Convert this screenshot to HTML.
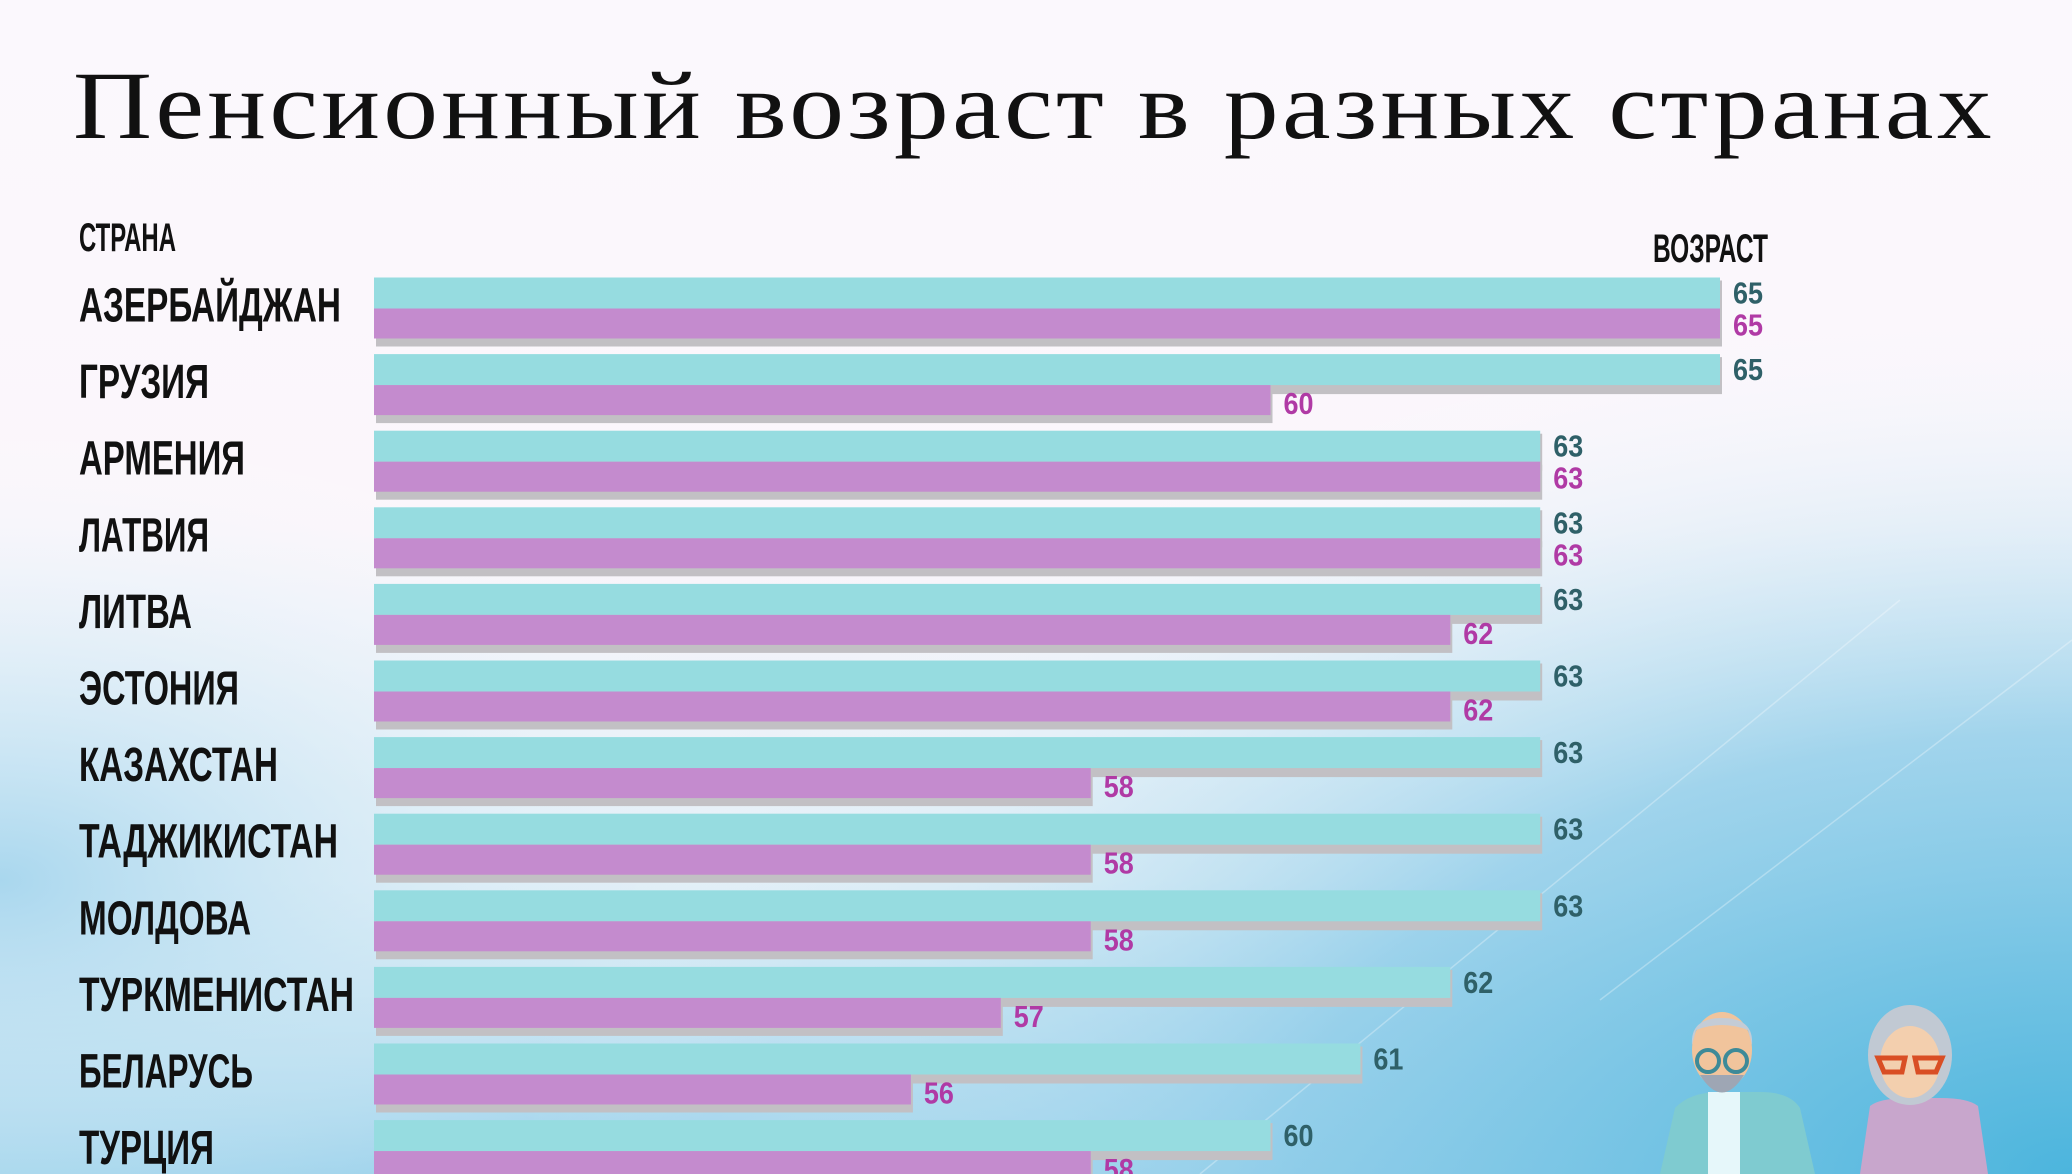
<!DOCTYPE html>
<html><head><meta charset="utf-8"><style>
html,body{margin:0;padding:0;width:2072px;height:1174px;overflow:hidden}
svg{display:block}
</style></head><body>
<svg width="2072" height="1174" viewBox="0 0 2072 1174" xmlns="http://www.w3.org/2000/svg">
<defs>
<linearGradient id="bg" x1="0" y1="0" x2="0" y2="1">
<stop offset="0" stop-color="#fbf8fd"/><stop offset="0.45" stop-color="#fbf6fb"/><stop offset="0.75" stop-color="#dfedf6"/><stop offset="1" stop-color="#8dcbe8"/>
</linearGradient>
<radialGradient id="br" cx="1" cy="1" r="0.75">
<stop offset="0" stop-color="#4cb5dd"/><stop offset="0.5" stop-color="#8fcde9" stop-opacity="0.8"/><stop offset="1" stop-color="#ffffff" stop-opacity="0"/>
</radialGradient>
<radialGradient id="bl" cx="0" cy="0.75" r="0.4">
<stop offset="0" stop-color="#a9d7ee"/><stop offset="1" stop-color="#ffffff" stop-opacity="0"/>
</radialGradient>
</defs>
<rect width="2072" height="1174" fill="url(#bg)"/>
<rect width="2072" height="1174" fill="url(#bl)"/>
<rect width="2072" height="1174" fill="url(#br)"/>
<g stroke="#ffffff" stroke-opacity="0.3" stroke-width="1.5" fill="none">
<path d="M1200 1174 L1900 600"/><path d="M1600 1000 L2072 640"/>
</g>

<text x="73" y="138" font-family="Liberation Serif, serif" font-size="96" letter-spacing="3" fill="#111" textLength="1922" lengthAdjust="spacingAndGlyphs">Пенсионный возраст в разных странах</text>

<g font-family="Liberation Sans, sans-serif" fill="#111" font-weight="bold">
<text x="79" y="251" font-size="40" textLength="97" lengthAdjust="spacingAndGlyphs">СТРАНА</text>
<text x="1768" y="262" font-size="40" text-anchor="end" textLength="115" lengthAdjust="spacingAndGlyphs">ВОЗРАСТ</text>
</g>

<g id="rows" font-family="Liberation Sans, sans-serif" font-weight="bold"></g>

<g>
<path d="M1660 1174 L1675 1108 Q1690 1092 1720 1092 L1760 1092 Q1790 1092 1800 1108 L1815 1174 Z" fill="#7fcbd0"/>
<rect x="1708" y="1092" width="32" height="82" fill="#e6f7fa"/>
<ellipse cx="1722" cy="1050" rx="30" ry="38" fill="#f1c49c"/>
<path d="M1692 1045 Q1690 1018 1722 1018 Q1754 1018 1752 1045 L1748 1030 Q1722 1020 1696 1030 Z" fill="#c4ccd6"/>
<path d="M1700 1075 Q1722 1110 1744 1075 Z" fill="#9ea6b4"/>
<circle cx="1708" cy="1061" r="11" fill="none" stroke="#3d8a98" stroke-width="4"/>
<circle cx="1736" cy="1061" r="11" fill="none" stroke="#3d8a98" stroke-width="4"/>
<path d="M1860 1174 L1870 1106 Q1880 1098 1910 1098 L1940 1098 Q1968 1098 1978 1106 L1988 1174 Z" fill="#c8a6cc"/>
<ellipse cx="1910" cy="1055" rx="42" ry="50" fill="#c1c9d3"/>
<ellipse cx="1910" cy="1062" rx="30" ry="36" fill="#f3cfae"/>
<path d="M1878 1058 L1905 1058 L1902 1072 L1884 1072 Z M1915 1058 L1942 1058 L1936 1072 L1918 1072 Z" fill="none" stroke="#d94e24" stroke-width="5"/>
</g>
</svg>
<script>
const d=[["АЗЕРБАЙДЖАН",65,65],["ГРУЗИЯ",65,60],["АРМЕНИЯ",63,63],["ЛАТВИЯ",63,63],["ЛИТВА",63,62],["ЭСТОНИЯ",63,62],["КАЗАХСТАН",63,58],["ТАДЖИКИСТАН",63,58],["МОЛДОВА",63,58],["ТУРКМЕНИСТАН",62,57],["БЕЛАРУСЬ",61,56],["ТУРЦИЯ",60,58]];
const widths=[262,130,166,130,113,160,199,259,172,275,174,135];
const g=document.getElementById('rows');let s='';
const X=v=>1720-(65-v)*89.9;
d.forEach((r,i)=>{const y=277.5+i*76.6;
const xm=X(r[1]),xw=X(r[2]);
s+=`<rect x="376" y="${y+3}" width="${xm-374}" height="37" fill="#c2c0c4"/>`;
s+=`<rect x="374" y="${y}" width="${xm-374}" height="31" fill="#96dce0"/>`;
s+=`<rect x="376" y="${y+34}" width="${xw-374}" height="35" fill="#c2c0c4"/>`;
s+=`<rect x="374" y="${y+31}" width="${xw-374}" height="30" fill="#c48bce"/>`;
s+=`<text x="79" y="${y+44}" font-size="48" fill="#111" textLength="${widths[i]}" lengthAdjust="spacingAndGlyphs">${r[0]}</text>`;
s+=`<text x="${xm+13}" y="${y+26}" font-size="31" fill="#2f6068" textLength="30" lengthAdjust="spacingAndGlyphs">${r[1]}</text>`;
s+=`<text x="${xw+13}" y="${y+(r[1]==r[2]?58:60)}" font-size="31" fill="#b03aa5" textLength="30" lengthAdjust="spacingAndGlyphs">${r[2]}</text>`;
});
g.innerHTML=s;
</script>
</body></html>
